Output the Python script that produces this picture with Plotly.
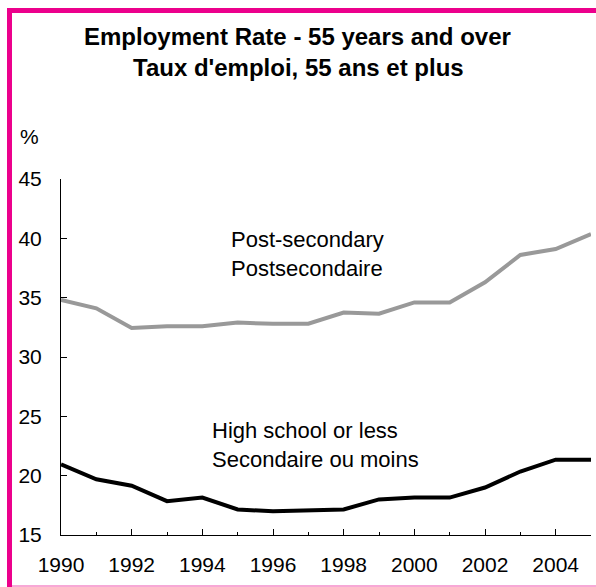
import plotly.graph_objects as go

years = list(range(1990, 2006))
post_secondary = [34.8, 34.1, 32.45, 32.6, 32.6, 32.9, 32.8, 32.8, 33.75, 33.65, 34.6, 34.6, 36.3, 38.6, 39.1, 40.35]
high_school = [20.95, 19.7, 19.15, 17.85, 18.15, 17.15, 17.0, 17.1, 17.15, 18.0, 18.15, 18.15, 19.0, 20.35, 21.35, 21.35]

title_en = "Employment Rate - 55 years and over"
title_fr = "Taux d'emploi, 55 ans et plus"
label_post = "Post-secondary<br>Postsecondaire"
label_hs = "High school or less<br>Secondaire ou moins"
y_ticks = [15, 20, 25, 30, 35, 40, 45]
x_ticks = list(range(1990, 2005, 2))

FONT = "Arial, Liberation Sans, sans-serif"
MAGENTA = "#EC008C"

fig = go.Figure()
fig.add_trace(go.Scatter(x=years, y=post_secondary, mode="lines",
                         line=dict(color="#999999", width=4), showlegend=False,
                         name="Post-secondary"))
fig.add_trace(go.Scatter(x=years, y=high_school, mode="lines",
                         line=dict(color="#000000", width=4), showlegend=False,
                         name="High school or less"))

fig.update_layout(
    width=596, height=587,
    margin=dict(l=61, r=5, t=179, b=52),
    paper_bgcolor="white", plot_bgcolor="white",
    font=dict(family=FONT, size=21, color="black"),
    xaxis=dict(range=[1990, 2005], tickvals=x_ticks, ticktext=[str(v) for v in x_ticks],
               ticks="inside", ticklen=6, tickwidth=1, tickcolor="black",
               showline=True, linecolor="black", linewidth=1, showgrid=False, zeroline=False,
               ticklabelstandoff=11,
               minor=dict(dtick=1, tick0=1990, ticks="inside", ticklen=3, tickcolor="black", showgrid=False),
               tickfont=dict(size=21)),
    yaxis=dict(range=[15, 45], tickvals=y_ticks,
               ticks="inside", ticklen=6, tickwidth=1, tickcolor="black",
               showline=True, linecolor="black", linewidth=1, showgrid=False, zeroline=False,
               ticklabelstandoff=14,
               tickfont=dict(size=21)),
)

def px_to_paper_x(px):
    return (px - 61) / 530.0

def px_to_paper_y(py):
    return (535 - py) / 356.0

fig.add_annotation(text="<b>" + title_en + "</b>", xref="paper", yref="paper",
                   x=px_to_paper_x(297), y=px_to_paper_y(36.5), xanchor="center", yanchor="middle",
                   showarrow=False, font=dict(size=24, family=FONT))
fig.add_annotation(text="<b>" + title_fr + "</b>", xref="paper", yref="paper",
                   x=px_to_paper_x(298), y=px_to_paper_y(67.5), xanchor="center", yanchor="middle",
                   showarrow=False, font=dict(size=24, family=FONT))
fig.add_annotation(text="%", xref="paper", yref="paper",
                   x=px_to_paper_x(18), y=px_to_paper_y(136), xanchor="left", yanchor="middle",
                   showarrow=False, font=dict(size=21, family=FONT))
fig.add_annotation(text=label_post, xref="x", yref="y", x=1994.75, y=38.66,
                   xanchor="left", yanchor="middle", align="left", showarrow=False,
                   font=dict(size=22, family=FONT))
fig.add_annotation(text=label_hs, xref="x", yref="y", x=1994.21, y=22.6,
                   xanchor="left", yanchor="middle", align="left", showarrow=False,
                   font=dict(size=22, family=FONT))

# magenta frame
fig.add_shape(type="line", xref="paper", yref="paper",
              x0=px_to_paper_x(9.5), x1=px_to_paper_x(9.5), y0=px_to_paper_y(587), y1=px_to_paper_y(8),
              line=dict(color=MAGENTA, width=5))
fig.add_shape(type="line", xref="paper", yref="paper",
              x0=px_to_paper_x(7), x1=px_to_paper_x(596), y0=px_to_paper_y(10.5), y1=px_to_paper_y(10.5),
              line=dict(color=MAGENTA, width=5))
fig.add_shape(type="line", xref="paper", yref="paper",
              x0=px_to_paper_x(12), x1=px_to_paper_x(596), y0=px_to_paper_y(586), y1=px_to_paper_y(586),
              line=dict(color="#F7A8D6", width=2))

fig.write_html("out.html", config={"displayModeBar": False},
               post_script="document.body.style.margin='0';document.body.style.overflow='hidden';")
